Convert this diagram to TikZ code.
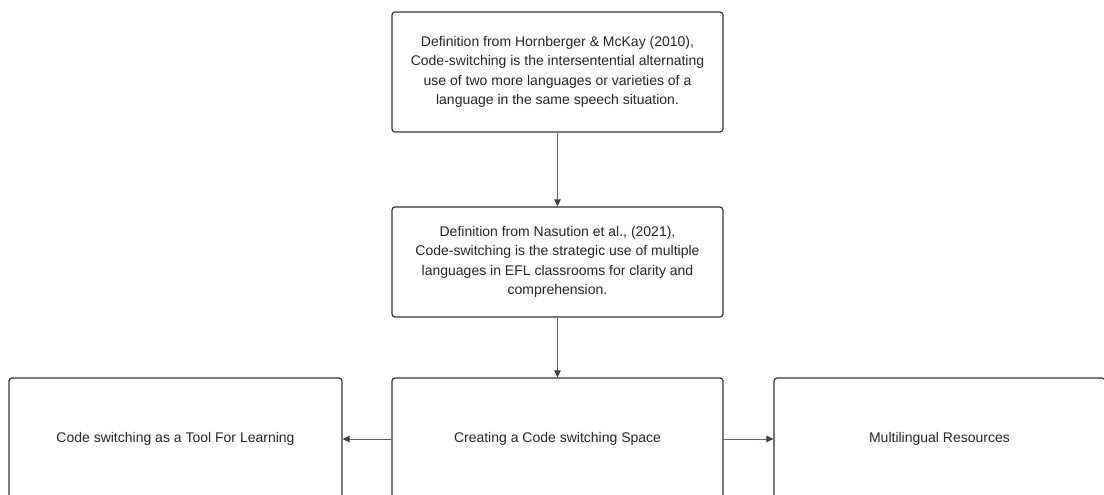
\documentclass[tikz,border=0pt]{standalone}
\usepackage{fontspec}
\setmainfont{Liberation Sans}
\usetikzlibrary{arrows.meta}
\definecolor{boxline}{HTML}{333333}
\definecolor{arrowline}{HTML}{5A5E66}
\definecolor{arrowtip}{HTML}{3A3F4A}
\begin{document}
\begin{tikzpicture}[x=1pt,y=-1pt,
  box/.style={draw=boxline,line width=1.2pt,rounded corners=3pt,fill=white,
    align=center,inner sep=0pt,font=\fontsize{14}{19.3}\selectfont,text=black!85},
  conn/.style={draw=arrowline,line width=0.8pt,-{Triangle[length=7pt,width=6.5pt,fill=arrowtip,color=arrowtip]}}]
\useasboundingbox (0,0) rectangle (1104,495);
\clip (0,0) rectangle (1104,495);
\fill[white] (0,0) rectangle (1104,495);
\node[box,minimum width=331pt,minimum height=120pt] (hm) at (557.5,72)
  {Definition from Hornberger \& McKay (2010),\\Code-switching is the intersentential alternating\\use of two more languages or varieties of a\\language in the same speech situation.};
\node[box,minimum width=331pt,minimum height=110pt] (na) at (557.5,262)
  {Definition from Nasution et al., (2021),\\Code-switching is the strategic use of multiple\\languages in EFL classrooms for clarity and\\comprehension.};
\node[box,minimum width=331pt,minimum height=122pt] (cs) at (557.5,439)
  {Creating a Code switching Space};
\node[box,minimum width=333pt,minimum height=122pt] (tl) at (175.5,439)
  {Code switching as a Tool For Learning};
\node[box,minimum width=331pt,minimum height=122pt] (mr) at (939.5,439)
  {Multilingual Resources};
\draw[conn] (hm) -- (na);
\draw[conn] (na) -- (cs);
\draw[conn] (cs) -- (tl);
\draw[conn] (cs) -- (mr);
\end{tikzpicture}
\end{document}
